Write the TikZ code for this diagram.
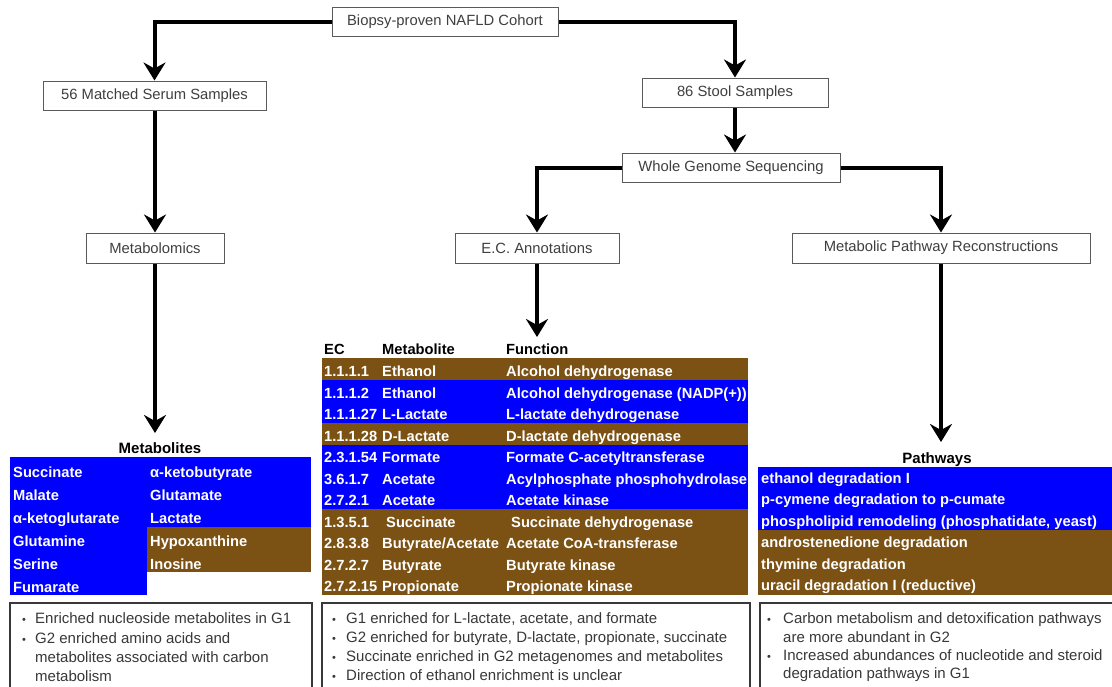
\documentclass[tikz,border=0pt]{standalone}
\usepackage{fontspec}
\setmainfont{Liberation Sans}
\usetikzlibrary{arrows.meta}
\definecolor{tblue}{HTML}{0000FF}
\definecolor{tbrown}{HTML}{7B5214}
\definecolor{boxtext}{HTML}{3F3F3F}
\definecolor{boxline}{HTML}{5A5A5A}
\definecolor{bodytext}{HTML}{383838}
\begin{document}
\begin{tikzpicture}[x=1pt,y=-1pt,
  flowbox/.style={draw=boxline, line width=1pt, fill=white, text=boxtext,
    font=\fontsize{14.8}{16}\selectfont, minimum height=29pt, inner sep=0pt},
  arr/.style={line width=4pt, -{Stealth[length=18pt,width=22pt,inset=6pt]}, line join=miter},
  cell/.style={anchor=base west, inner sep=0pt, text=white, font=\bfseries\fontsize{14.7}{16}\selectfont},
  hdr/.style={anchor=base west, inner sep=0pt, text=black, font=\bfseries\fontsize{14.7}{16}\selectfont},
  ttl/.style={anchor=base, inner sep=0pt, text=black, font=\bfseries\fontsize{15}{17}\selectfont},
  bul/.style={anchor=base west, inner sep=0pt, text=bodytext, font=\fontsize{15}{18}\selectfont},
  dot/.style={anchor=base west, inner sep=0pt, text=bodytext, font=\fontsize{11}{12}\selectfont},
  framebox/.style={draw=bodytext, line width=1.3pt},
]
\fill[white] (0,0) rectangle (1112,686);
\useasboundingbox (0,0) rectangle (1112,686);

% ---------- flow boxes ----------
\node[flowbox, minimum width=226pt] (bio)   at (445,21.5)  {Biopsy-proven  NAFLD  Cohort};
\node[flowbox, minimum width=223pt] (serum) at (154.5,95.5) {56 Matched Serum Samples};
\node[flowbox, minimum width=186pt] (stool) at (735,92.5)  {86 Stool Samples};
\node[flowbox, minimum width=218pt] (wgs)   at (731,167.5) {Whole Genome  Sequencing};
\node[flowbox, minimum width=138pt, minimum height=30pt] (metab) at (155,248) {Metabolomics};
\node[flowbox, minimum width=164pt, minimum height=30pt] (ec)    at (537,248) {E.C. Annotations};
\node[flowbox, minimum width=298pt, minimum height=30pt] (mpr)   at (941,248) {Metabolic Pathway Reconstructions};

\coordinate (mtip) at (155,433);
\coordinate (etip) at (537,337);
\coordinate (ptip) at (941,442);

% ---------- connectors ----------
\draw[arr] (bio.west) -| (serum.north);
\draw[arr] (bio.east) -| (stool.north);
\draw[arr] (stool.south) -- (stool.south |- wgs.north);
\draw[arr] (wgs.west) -| (ec.north);
\draw[arr] (wgs.east) -| (mpr.north);
\draw[arr] (metab.north |- serum.south) -- (metab.north);
\draw[arr] (metab.south) -- (mtip);
\draw[arr] (ec.south) -- (etip);
\draw[arr] (mpr.south) -- (ptip);

% ---------- Metabolites table ----------
\node[ttl] (mettitle) at (160,453) {Metabolites};
\fill[tblue] (10,457) rectangle (147,595);
\fill[tblue] (147,457) rectangle (311,527);
\fill[tbrown] (147,527) rectangle (311,572);
\foreach \t [count=\i from 0] in {Succinate, Malate, α-ketoglutarate, Glutamine, Serine, Fumarate}
  \node[cell] (ml\i) at (13,477+23*\i) {\t};
\foreach \t [count=\i from 0] in {α-ketobutyrate, Glutamate, Lactate, Hypoxanthine, Inosine}
  \node[cell] (mr\i) at (150,477+23*\i) {\t};

% ---------- EC table ----------
\node[hdr] (hec)  at (324,354) {EC};
\node[hdr] (hmet) at (382,354) {Metabolite};
\node[hdr] (hfun) at (506,354) {Function};
\fill[tbrown] (322,358) rectangle (748,380);
\fill[tblue]  (322,380) rectangle (748,423);
\fill[tbrown] (322,423) rectangle (748,444.5);
\fill[tblue]  (322,444.5) rectangle (748,509);
\fill[tbrown] (322,509) rectangle (748,595);
\foreach \a/\b/\c [count=\i from 0] in {
  1.1.1.1/Ethanol/Alcohol dehydrogenase,
  1.1.1.2/Ethanol/Alcohol dehydrogenase (NADP(+)),
  1.1.1.27/L-Lactate/L-lactate dehydrogenase,
  1.1.1.28/D-Lactate/D-lactate dehydrogenase,
  2.3.1.54/Formate/Formate C-acetyltransferase,
  3.6.1.7/Acetate/Acylphosphate phosphohydrolase,
  2.7.2.1/Acetate/Acetate kinase}
{
  \node[cell] (eca\i) at (324,376.7+21.5*\i) {\a};
  \node[cell] (ecb\i) at (382,376.7+21.5*\i) {\b};
  \node[cell] (ecc\i) at (506,376.7+21.5*\i) {\c};
}
\node[cell] (eca7) at (324,527.2) {1.3.5.1};
\node[cell] (ecb7) at (386,527.2) {Succinate};
\node[cell] (ecc7) at (511,527.2) {Succinate dehydrogenase};
\node[cell] (eca8) at (324,548.7) {2.8.3.8};
\node[cell] (ecb8) at (382,548.7) {Butyrate/Acetate};
\node[cell] (ecc8) at (506,548.7) {Acetate CoA-transferase};
\node[cell] (eca9) at (324,570.2) {2.7.2.7};
\node[cell] (ecb9) at (382,570.2) {Butyrate};
\node[cell] (ecc9) at (506,570.2) {Butyrate kinase};
\node[cell] (eca10) at (324,591.7) {2.7.2.15};
\node[cell] (ecb10) at (382,591.7) {Propionate};
\node[cell] (ecc10) at (506,591.7) {Propionate kinase};

% ---------- Pathways table ----------
\node[ttl] (pathtitle) at (937,463) {Pathways};
\fill[tblue]  (758,467) rectangle (1112,530);
\fill[tbrown] (758,530) rectangle (1112,595);
\foreach \t [count=\i from 0] in {ethanol degradation I, p-cymene degradation to p-cumate,
  {phospholipid remodeling (phosphatidate, yeast)}, androstenedione degradation,
  thymine degradation, uracil degradation I (reductive)}
  \node[cell] (pw\i) at (761,483+21.5*\i) {\t};

% ---------- summary boxes ----------
\draw[framebox] (10,690) -- (10,603) -- (312,603) -- (312,690);
\draw[framebox] (322,690) -- (322,603) -- (750,603) -- (750,690);
\draw[framebox] (760,690) -- (760,603) -- (1116,603);

\node[dot] (lb1) at (22,623) {•};
\node[bul] (lt1) at (35,623) {Enriched nucleoside metabolites in G1};
\node[dot] (lb2) at (22,643) {•};
\node[bul] (lt2) at (35,643) {G2 enriched amino acids and};
\node[bul] (lt3) at (35,662) {metabolites associated with carbon};
\node[bul] (lt4) at (35,681) {metabolism};

\node[dot] (cb1) at (332,623) {•};
\node[bul] (ct1) at (346,623) {G1 enriched for L-lactate, acetate, and formate};
\node[dot] (cb2) at (332,642) {•};
\node[bul] (ct2) at (346,642) {G2 enriched for butyrate, D-lactate, propionate, succinate};
\node[dot] (cb3) at (332,661) {•};
\node[bul] (ct3) at (346,661) {Succinate enriched in G2 metagenomes and metabolites};
\node[dot] (cb4) at (332,680) {•};
\node[bul] (ct4) at (346,680) {Direction of ethanol enrichment is unclear};

\node[dot] (rb1) at (767,623) {•};
\node[bul] (rt1) at (783,623) {Carbon metabolism and detoxification pathways};
\node[bul] (rt2) at (783,642) {are more abundant in G2};
\node[dot] (rb2) at (767,660) {•};
\node[bul] (rt3) at (783,660) {Increased abundances of nucleotide and steroid};
\node[bul] (rt4) at (783,678) {degradation pathways in G1};
\end{tikzpicture}
\end{document}
